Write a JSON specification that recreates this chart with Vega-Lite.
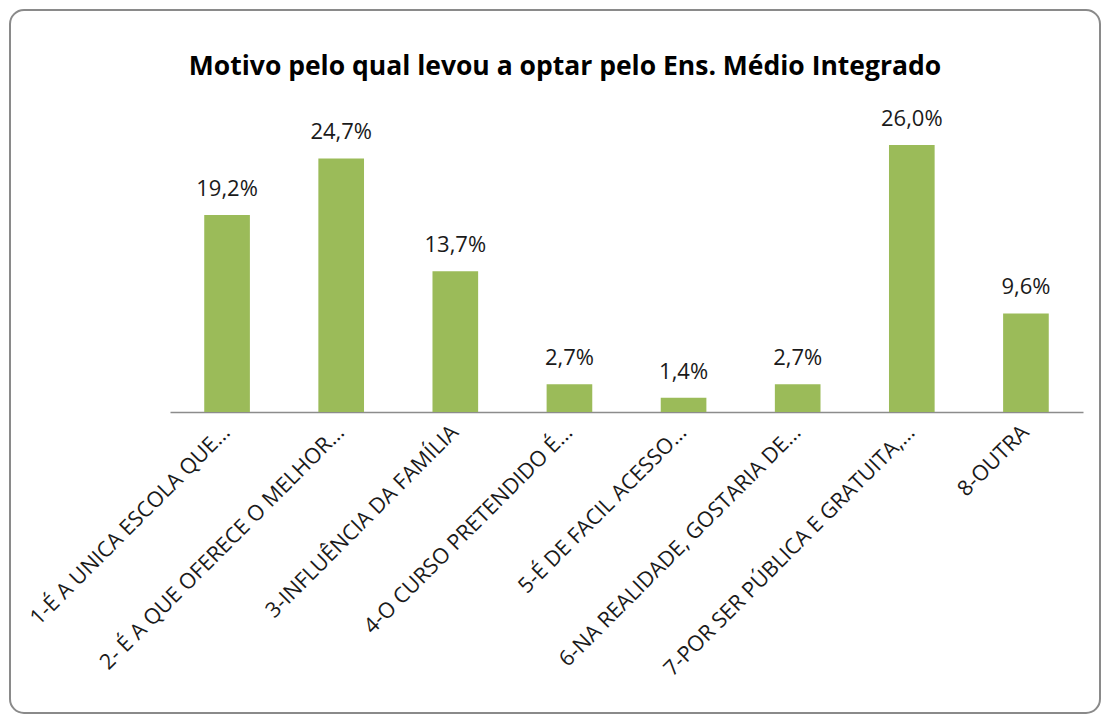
{
  "$schema": "https://vega.github.io/schema/vega-lite/v6.json",
  "width": 1090,
  "height": 703,
  "autosize": {"type": "none"},
  "padding": {"left": 10, "top": 10, "right": 8, "bottom": 5},
  "background": "white",
  "title": {
    "text": "Motivo pelo qual levou a optar pelo Ens. Médio Integrado",
    "font": "Open Sans",
    "fontSize": 26.5,
    "fontWeight": "bold",
    "color": "#000000",
    "anchor": "middle",
    "dx": 10,
    "offset": -70
  },
  "data": {
    "values": [
      {"motivo": "1-É A UNICA ESCOLA QUE...", "pct": 19.2, "rotulo": "19,2%"},
      {"motivo": "2- É A QUE OFERECE O MELHOR...", "pct": 24.7, "rotulo": "24,7%"},
      {"motivo": "3-INFLUÊNCIA DA FAMÍLIA", "pct": 13.7, "rotulo": "13,7%"},
      {"motivo": "4-O CURSO PRETENDIDO É...", "pct": 2.7, "rotulo": "2,7%"},
      {"motivo": "5-É DE FACIL ACESSO...", "pct": 1.4, "rotulo": "1,4%"},
      {"motivo": "6-NA REALIDADE, GOSTARIA DE...", "pct": 2.7, "rotulo": "2,7%"},
      {"motivo": "7-POR SER PÚBLICA E GRATUITA,...", "pct": 26.0, "rotulo": "26,0%"},
      {"motivo": "8-OUTRA", "pct": 9.6, "rotulo": "9,6%"}
    ]
  },
  "encoding": {
    "x": {
      "field": "motivo",
      "type": "nominal",
      "sort": null,
      "scale": {"range": [160, 1073], "paddingInner": 0.6, "paddingOuter": 0.3},
      "axis": {
        "title": null,
        "orient": "bottom",
        "offset": -301,
        "labelAngle": -45,
        "labelAlign": "right",
        "labelBaseline": "middle",
        "labelPadding": 17,
        "labelFont": "Open Sans",
        "labelFontSize": 21.5,
        "labelColor": "#1a1a1a",
        "labelLimit": 500,
        "ticks": false,
        "domainColor": "#8c8c8c",
        "domainWidth": 1.5,
        "grid": false
      }
    },
    "y": {
      "field": "pct",
      "type": "quantitative",
      "scale": {"domain": [0, 30], "range": [402, 94]},
      "axis": null
    }
  },
  "layer": [
    {"mark": {"type": "bar", "color": "#9BBB59"}},
    {
      "mark": {"type": "text", "baseline": "alphabetic", "dy": -19, "font": "Open Sans", "fontSize": 22, "color": "#1a1a1a"},
      "encoding": {"text": {"field": "rotulo"}}
    }
  ],
  "config": {
    "view": {"stroke": "#8a8a8a", "strokeWidth": 2, "cornerRadius": 14}
  }
}
